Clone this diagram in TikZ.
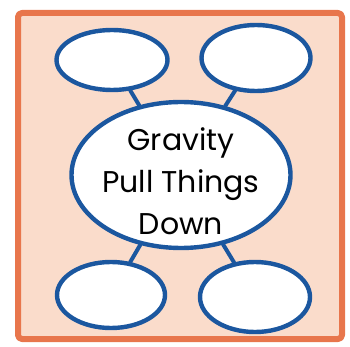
\documentclass[tikz,border=0pt]{standalone}
\usepackage{fontspec}
\setmainfont{Poppins}
\usetikzlibrary{shapes.geometric}
\definecolor{bubbleblue}{HTML}{1B579F}
\definecolor{frameorange}{HTML}{E8764C}
\definecolor{framefill}{HTML}{FADCCB}
\tikzset{
  every picture/.style={line join=round, line cap=round},
  frame/.style={draw=frameorange, fill=framefill, line width=6pt, rounded corners=4pt},
  bubble/.style={ellipse, draw=bubbleblue, fill=white, line width=4.4pt, inner sep=0pt},
  link/.style={draw=bubbleblue, line width=4pt},
}

\begin{document}
\begin{tikzpicture}[x=1pt,y=-1pt]
\useasboundingbox (0,0) rectangle (350,347);
\draw[frame] (18,13) rectangle (342,339);
% the four empty bubbles
\node[bubble, minimum width=111pt, minimum height=60pt] (tl) at (112,60) {};
\node[bubble, minimum width=109pt, minimum height=66pt] (tr) at (256,58) {};
\node[bubble, minimum width=108pt, minimum height=66pt] (bl) at (111,295) {};
\node[bubble, minimum width=110pt, minimum height=70pt] (br) at (255,297) {};
% centre bubble and its text
\node[bubble, minimum width=219pt, minimum height=146pt] (main) at (181,175) {};
\node[align=center, font=\fontsize{30}{42}\selectfont] (mainText)
  at ([yshift=-6pt]main.center) {Gravity\\Pull Things\\Down};
\draw[link] (tl) -- (main);
\draw[link] (tr) -- (main);
\draw[link] (bl) -- (main);
\draw[link] (br) -- (main);
\end{tikzpicture}
\end{document}
